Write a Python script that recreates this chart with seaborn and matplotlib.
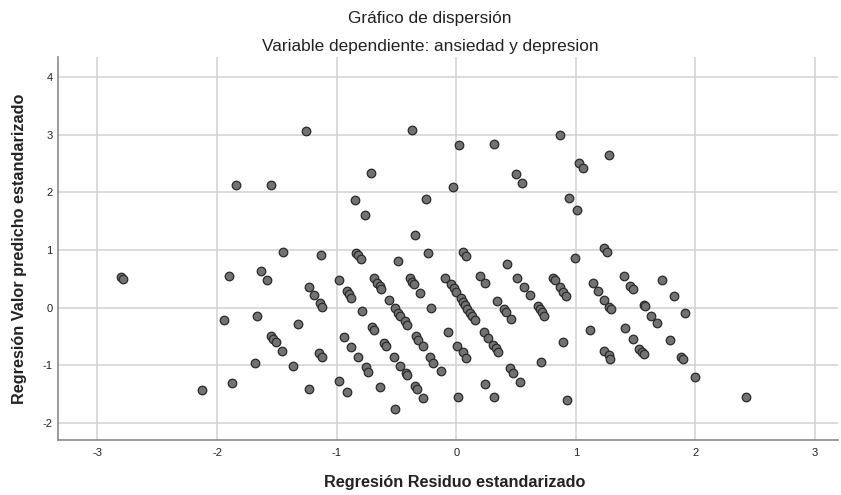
import matplotlib
matplotlib.use("Agg")
import matplotlib.pyplot as plt
import seaborn as sns
import pandas as pd

# Regresión Residuo estandarizado
residuo = [
    -1.26, -1.845, -1.547, -1.447, -0.37, 0.025, 0.315, 0.864, 1.03, 1.06,
    -0.716, -0.028, 0.496, 0.549, -0.847, -0.763, -0.256, -0.345, 0.94, 1.01,
    -1.129, -0.84, -0.825, -0.80, -0.487, -0.237, 0.053, 0.081, 0.99, 1.282,
    1.235, 1.26, -2.80, -2.79, -1.90, -1.635, -1.58, -1.235, -1.187, -1.137,
    -1.12, -1.945, -1.669, -1.32, -1.552, -1.53, -1.51, -1.455, -1.15, -1.12,
    -1.686, -1.363, -1.873, -2.126, -1.23, 0.426, -0.98, -0.913, -0.896, -0.877,
    -0.79, -0.69, -0.66, -0.64, -0.627, -0.56, -0.51, -0.49, -0.47, -0.43,
    -0.41, -0.39, -0.37, -0.35, -0.30, -0.21, -0.09, -0.044, -0.02, 0.0,
    0.036, 0.055, 0.077, 0.09, 0.113, 0.136, 0.16, 0.2, 0.243, 0.345,
    0.396, 0.415, 0.455, 0.51, 0.57, 0.616, 0.68, 0.697, 0.714, 0.734,
    0.81, 0.825, 0.867, 0.889, 0.917, -0.705, -0.69, -0.94, -0.88, -0.825,
    -0.756, -0.734, -0.60, -0.587, -0.52, -0.47, -0.42, -0.41, -0.34, -0.32,
    -0.28, -0.22, -0.19, -0.13, -0.07, 0.01, 0.053, 0.084, 0.234, 0.27,
    0.31, 0.33, 0.35, 0.446, 0.475, 0.53, 0.71, 0.897, -0.98, -0.91,
    -0.64, -0.345, -0.33, -0.275, -0.51, 0.014, 0.237, 0.318, 0.93, 1.14,
    1.19, 1.24, 1.28, 1.294, 1.405, 1.455, 1.48, 1.574, 1.58, 1.63,
    1.68, 1.725, 1.82, 1.915, 1.12, 1.41, 1.475, 1.24, 1.275, 1.29,
    1.53, 1.55, 1.57, 1.785, 1.88, 1.895, 2.0, 2.42,
]

# Regresión Valor predicho estandarizado
predicho = [
    3.07, 2.13, 2.13, 0.97, 3.09, 2.82, 2.84, 3.00, 2.51, 2.43,
    2.34, 2.09, 2.32, 2.16, 1.86, 1.61, 1.89, 1.26, 1.90, 1.69,
    0.915, 0.955, 0.915, 0.845, 0.80, 0.94, 0.97, 0.90, 0.86, 2.65,
    1.03, 0.97, 0.53, 0.50, 0.54, 0.64, 0.48, 0.35, 0.21, 0.075,
    0.005, -0.21, -0.14, -0.28, -0.49, -0.54, -0.60, -0.76, -0.79, -0.86,
    -0.97, -1.02, -1.31, -1.43, -1.42, 0.76, 0.48, 0.29, 0.24, 0.17,
    -0.06, 0.51, 0.43, 0.38, 0.32, 0.13, -0.01, -0.09, -0.14, -0.225,
    -0.31, 0.51, 0.45, 0.41, 0.25, 0.00, 0.51, 0.41, 0.34, 0.27,
    0.16, 0.10, 0.05, -0.02, -0.10, -0.14, -0.21, 0.54, 0.43, 0.12,
    -0.02, -0.08, -0.20, 0.51, 0.35, 0.21, 0.02, -0.02, -0.08, -0.14,
    0.51, 0.48, 0.35, 0.27, 0.20, -0.33, -0.39, -0.51, -0.68, -0.85,
    -1.04, -1.12, -0.62, -0.66, -0.85, -1.01, -1.14, -1.17, -0.50, -0.56,
    -0.67, -0.86, -0.96, -1.11, -0.42, -0.66, -0.77, -0.87, -0.42, -0.53,
    -0.65, -0.70, -0.78, -1.05, -1.14, -1.30, -0.95, -0.60, -1.28, -1.46,
    -1.38, -1.36, -1.42, -1.57, -1.76, -1.545, -1.32, -1.555, -1.60, 0.43,
    0.29, 0.13, 0.005, -0.02, 0.54, 0.38, 0.32, 0.04, 0.02, -0.14,
    -0.27, 0.48, 0.20, -0.09, -0.39, -0.36, -0.54, -0.75, -0.83, -0.89,
    -0.72, -0.77, -0.81, -0.57, -0.85, -0.90, -1.20, -1.545,
]

x_ticks = [-3, -2, -1, 0, 1, 2, 3]
y_ticks = [-2, -1, 0, 1, 2, 3, 4]

sns.set_theme(style="white")
plt.rcParams['font.family'] = ['Liberation Sans', 'DejaVu Sans']

df = pd.DataFrame({"res": residuo, "pred": predicho})

fig = plt.figure(figsize=(8.41, 4.95), dpi=100)
ax = fig.add_axes([0.069, 0.111, 0.927, 0.774])

sns.scatterplot(data=df, x="res", y="pred", ax=ax, s=38, color="#727272",
                edgecolor="#2a2a2a", linewidth=0.9, zorder=3, legend=False)

ax.set_xlim(-3.33, 3.19)
ax.set_ylim(-2.30, 4.35)
ax.set_xticks(x_ticks)
ax.set_yticks(y_ticks)
ax.set_xticklabels([str(t) for t in x_ticks])
ax.set_yticklabels([str(t) for t in y_ticks])
ax.grid(True, color="#d4d4d4", linewidth=1.2, zorder=0)
ax.set_axisbelow(True)
for s in ["top", "right"]:
    ax.spines[s].set_visible(False)
for s in ["left", "bottom"]:
    ax.spines[s].set_color("#8a8a8a")
    ax.spines[s].set_linewidth(1.2)
ax.tick_params(axis="both", which="both", length=0, labelsize=8,
               labelcolor="#222222")
ax.tick_params(axis="x", pad=6)
ax.tick_params(axis="y", pad=4)

ax.set_xlabel("Regresión Residuo estandarizado", fontsize=11.7,
              fontweight="bold", color="#222222")
ax.xaxis.set_label_coords((455 / 841 - 0.069) / 0.927, -0.092)
ax.set_ylabel("Regresión Valor predicho estandarizado", fontsize=11.7,
              fontweight="bold", color="#222222")
ax.yaxis.set_label_coords(-0.040, 0.5)

fig.text(430 / 841, 1 - 18 / 495, "Gráfico de dispersión", ha="center",
         va="center", fontsize=12.4, color="#222222")
fig.text(430 / 841, 1 - 47 / 495, "Variable dependiente: ansiedad y depresion",
         ha="center", va="center", fontsize=12.4, color="#222222")

fig.savefig("out.png", dpi=100)
